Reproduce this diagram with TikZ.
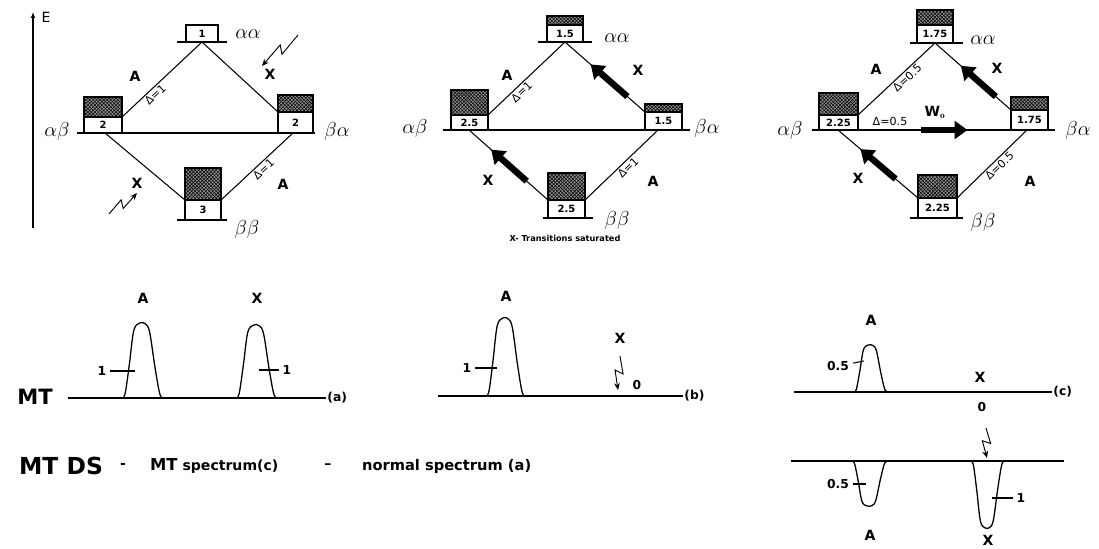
\documentclass[tikz,border=0pt]{standalone}
\usepackage{fontspec}
\setsansfont{DejaVu Sans}
\usepackage{tikz}
\usetikzlibrary{arrows.meta, calc, patterns}
\tikzstyle{lvline} = [line width=1.6pt]
\tikzstyle{tieline} = [line width=0.9pt]
\tikzstyle{boxline} = [line width=1.3pt]
\tikzstyle{hatchfill} = [pattern=crosshatch, pattern color=black]
\tikzstyle{fatarrow} = [line width=5.5pt, -{Triangle[width=15pt,length=11pt]}]
\tikzstyle{zig} = [line width=0.8pt, -{Stealth[length=6pt,width=5pt]}]
\tikzstyle{specline} = [line width=1.1pt]
\tikzstyle{lbl} = [font={\sffamily\bfseries\fontsize{12}{14}\selectfont}]
\tikzstyle{small} = [font={\sffamily\bfseries\fontsize{10.5}{12}\selectfont}]
\tikzstyle{num} = [font={\sffamily\bfseries\fontsize{8.5}{10}\selectfont}, inner sep=0pt]
\tikzstyle{spin} = [font={\fontsize{16}{18}\selectfont}]
\tikzstyle{dlabel} = [font={\sffamily\fontsize{9.5}{11}\selectfont}, inner sep=1.5pt]

% level box: name, x1, x2, top, hatch line, base, number
\newcommand\lvbox[7]{%
  \fill[black!45] (#2,#4) rectangle (#3,#5);
  \fill[hatchfill] (#2,#4) rectangle (#3,#5);
  \draw[boxline] (#2,#4) rectangle (#3,#6) (#2,#5) -- (#3,#5);
  \node[num] (#1) at ({(#2+#3)/2},{(#5+#6)/2}) {#7};
  \coordinate (#1-w) at (#2,#5);
  \coordinate (#1-e) at (#3,#5);
  \coordinate (#1-s) at ({(#2+#3)/2},#6);
}
% lightning arrow between two named coordinates
\newcommand\zigzag[2]{%
  \draw[zig] (#1) -- ($(#1)!0.52!(#2)!3.5pt!90:(#2)$)
    -- ($(#1)!0.42!(#2)!3.5pt!-90:(#2)$) -- (#2);
}
% line: centre x, baseline y, height (negative for a dip), half width
\newcommand\peak[4]{%
  \draw[specline] plot[smooth, tension=0.55] coordinates {({#1-#4},#2)
    ({#1-0.82*#4},{#2-0.05*#3}) ({#1-0.62*#4},{#2-0.45*#3})
    ({#1-0.42*#4},{#2-0.9*#3}) ({#1-0.15*#4},{#2-#3})
    ({#1+0.1*#4},{#2-0.99*#3}) ({#1+0.3*#4},{#2-0.88*#3})
    ({#1+0.55*#4},{#2-0.4*#3}) ({#1+0.78*#4},{#2-0.04*#3}) ({#1+#4},#2)};
}

\begin{document}
\begin{tikzpicture}[x=0.03cm, y=-0.03cm]
\useasboundingbox (0,0) rectangle (1099,548);

% energy axis
\coordinate (ebot) at (33,228);
\coordinate (etop) at (33,12);
\draw[line width=0.9pt, -{Latex[length=5pt,width=4pt]}] (ebot) -- (etop);
\node[font={\sffamily\fontsize{12}{14}\selectfont}] (elbl) at (46,17) {E};

% ---- panel 1
\draw[lvline] (177,42) -- (227,42);
\draw[lvline] (77,133) -- (315,133);
\draw[lvline] (177,220) -- (227,220);
\lvbox{p1aa}{186}{218}{25}{25}{42}{1}
\lvbox{p1ab}{84}{122}{97}{117}{133}{2}
\lvbox{p1ba}{278}{313}{95}{112}{133}{2}
\lvbox{p1bb}{185}{221}{168}{200}{220}{3}
\coordinate (p1l) at (105,133);
\coordinate (p1r) at (293,133);
\draw[tieline] (p1ab-e) -- node[dlabel, sloped, below, pos=0.36] {Δ=1} (p1aa-s);
\draw[tieline] (p1aa-s) -- (p1ba-w);
\draw[tieline] (p1l) -- (p1bb-w);
\draw[tieline] (p1bb-e) -- node[dlabel, sloped, below, pos=0.53] {Δ=1} (p1r);
\node[spin] (p1saa) at (248,34) {$\alpha\alpha$};
\node[spin] (p1sab) at (57,131) {$\alpha\beta$};
\node[spin] (p1sba) at (337,131) {$\beta\alpha$};
\node[spin] (p1sbb) at (247,229) {$\beta\beta$};
\node[lbl] (p1A1) at (135,76) {A};
\node[lbl] (p1X1) at (270,74) {X};
\node[lbl] (p1X2) at (137,183) {X};
\node[lbl] (p1A2) at (283,184) {A};
\coordinate (z1s) at (298,35);
\coordinate (z1e) at (262,66);
\zigzag{z1s}{z1e}
\coordinate (z2s) at (109,214);
\coordinate (z2e) at (137,193);
\zigzag{z2s}{z2e}

% ---- panel 2
\draw[lvline] (538,42) -- (592,42);
\draw[lvline] (443,130) -- (690,130);
\draw[lvline] (543,218) -- (593,218);
\lvbox{p2aa}{547}{583}{16}{25}{42}{1.5}
\lvbox{p2ab}{451}{488}{90}{115}{130}{2.5}
\lvbox{p2ba}{645}{682}{104}{112}{130}{1.5}
\lvbox{p2bb}{548}{585}{173}{200}{218}{2.5}
\coordinate (p2l) at (469,130);
\coordinate (p2r) at (658,130);
\draw[tieline] (p2ab-e) -- node[dlabel, sloped, below, pos=0.38] {Δ=1} (p2aa-s);
\draw[tieline] (p2aa-s) -- (p2ba-w);
\draw[tieline] (p2l) -- (p2bb-w);
\draw[tieline] (p2bb-e) -- node[dlabel, sloped, below, pos=0.53] {Δ=1} (p2r);
\draw[fatarrow] ($(p2ba-w)!0.22!(p2aa-s)$) -- ($(p2ba-w)!0.68!(p2aa-s)$);
\draw[fatarrow] ($(p2bb-w)!0.27!(p2l)$) -- ($(p2bb-w)!0.72!(p2l)$);
\node[spin] (p2saa) at (617,38) {$\alpha\alpha$};
\node[spin] (p2sab) at (415,128) {$\alpha\beta$};
\node[spin] (p2sba) at (707,128) {$\beta\alpha$};
\node[spin] (p2sbb) at (617,220) {$\beta\beta$};
\node[lbl] (p2A1) at (507,75) {A};
\node[lbl] (p2X1) at (638,70) {X};
\node[lbl] (p2X2) at (488,180) {X};
\node[lbl] (p2A2) at (653,181) {A};
\node[font={\sffamily\bfseries\fontsize{7}{8}\selectfont}] (p2cap) at (565,238) {X- Transitions saturated};

% ---- panel 3
\draw[lvline] (910,43) -- (963,43);
\draw[lvline] (812,130) -- (1055,130);
\draw[lvline] (910,218) -- (963,218);
\lvbox{p3aa}{917}{953}{10}{25}{43}{1.75}
\lvbox{p3ab}{819}{858}{93}{115}{130}{2.25}
\lvbox{p3ba}{1011}{1048}{97}{110}{130}{1.75}
\lvbox{p3bb}{918}{957}{175}{198}{218}{2.25}
\coordinate (p3l) at (838,130);
\coordinate (p3r) at (1027,130);
\coordinate (p3ml) at (812,130);
\coordinate (p3mr) at (1055,130);
\draw[tieline] (p3ab-e) -- node[dlabel, sloped, below, pos=0.58] {Δ=0.5} (p3aa-s);
\draw[tieline] (p3aa-s) -- (p3ba-w);
\draw[tieline] (p3l) -- (p3bb-w);
\draw[tieline] (p3bb-e) -- node[dlabel, sloped, below, pos=0.54] {Δ=0.5} (p3r);
\draw[fatarrow] ($(p3ba-w)!0.2!(p3aa-s)$) -- ($(p3ba-w)!0.66!(p3aa-s)$);
\draw[fatarrow] ($(p3bb-w)!0.28!(p3l)$) -- ($(p3bb-w)!0.72!(p3l)$);
\draw[fatarrow] ($(p3ml)!0.45!(p3mr)$) -- ($(p3ml)!0.64!(p3mr)$);
\node[dlabel] (p3d) at (890,121) {Δ=0.5};
\node[lbl] (p3w) at (935,112) {W$_{\mathbf{o}}$};
\node[spin] (p3saa) at (983,40) {$\alpha\alpha$};
\node[spin] (p3sab) at (790,130) {$\alpha\beta$};
\node[spin] (p3sba) at (1078,130) {$\beta\alpha$};
\node[spin] (p3sbb) at (983,222) {$\beta\beta$};
\node[lbl] (p3A1) at (876,69) {A};
\node[lbl] (p3X1) at (997,68) {X};
\node[lbl] (p3X2) at (858,178) {X};
\node[lbl] (p3A2) at (1030,181) {A};

% ---- spectrum (a)
\node[font={\sffamily\bfseries\fontsize{18}{20}\selectfont}] (mta) at (35,397) {MT};
\coordinate (a0) at (68,398);
\coordinate (a1) at (326,398);
\draw[specline] (a0) -- (a1);
\node[small, anchor=west, inner sep=1pt] (alab) at (a1) {(a)};
\peak{143}{398}{75}{22}
\peak{257}{398}{73}{22}
\node[lbl] (aA) at (143,298) {A};
\node[lbl] (aX) at (257,298) {X};
\node[small] (at1) at (102,371) {1};
\coordinate (at1e) at (135,371);
\draw[tieline] (at1) -- (at1e);
\node[small] (at2) at (287,370) {1};
\coordinate (at2e) at (259,370);
\draw[tieline] (at2e) -- (at2);

% ---- spectrum (b)
\coordinate (b0) at (438,396);
\coordinate (b1) at (683,396);
\draw[specline] (b0) -- (b1);
\node[small, anchor=west, inner sep=1pt] (blab) at (b1) {(b)};
\peak{506}{396}{78}{21}
\node[lbl] (bA) at (506,296) {A};
\node[small] (bt1) at (467,368) {1};
\coordinate (bt1e) at (497,368);
\draw[tieline] (bt1) -- (bt1e);
\node[lbl] (bX) at (620,338) {X};
\coordinate (z3s) at (620,356);
\coordinate (z3e) at (618,390);
\zigzag{z3s}{z3e}
\node[small] (b0lab) at (637,385) {0};

% ---- spectrum (c)
\coordinate (c0) at (794,392);
\coordinate (c1) at (1052,392);
\draw[specline] (c0) -- (c1);
\node[small, anchor=west, inner sep=1pt] (clab) at (c1) {(c)};
\peak{871}{392}{47}{18}
\node[lbl] (cA) at (871,320) {A};
\node[small] (ct1) at (838,366) {0.5};
\coordinate (ct1e) at (864,361);
\draw[tieline] (ct1) -- (ct1e);
\node[lbl] (cX) at (980,377) {X};
\node[small] (c0lab) at (982,407) {0};
\coordinate (z4s) at (986,428);
\coordinate (z4e) at (987,458);
\zigzag{z4s}{z4e}

% ---- difference spectrum
\coordinate (d0) at (791,461);
\coordinate (d1) at (1064,461);
\draw[specline] (d0) -- (d1);
\peak{870}{461}{-45}{19}
\peak{988}{461}{-67}{18}
\node[small] (dt1) at (838,484) {0.5};
\coordinate (dt1e) at (866,484);
\draw[tieline] (dt1) -- (dt1e);
\node[small] (dt2) at (1021,498) {1};
\coordinate (dt2e) at (992,498);
\draw[tieline] (dt2e) -- (dt2);
\node[lbl] (dA) at (870,535) {A};
\node[lbl] (dX) at (988,540) {X};

% ---- MT DS caption
\node[font={\sffamily\bfseries\fontsize{20}{22}\selectfont}] (mtds) at (61,466) {MT DS};
\node[lbl] (minus1) at (123,466) {-};
\node[lbl, anchor=west] (mtc) at (146,466) {{\fontsize{14}{16}\selectfont MT} spectrum(c)};
\node[lbl] (minus2) at (328,466) {–};
\node[font={\sffamily\bfseries\fontsize{12.5}{14}\selectfont}, anchor=west] (norm) at (358,466) {normal spectrum (a)};

\end{tikzpicture}
\end{document}
